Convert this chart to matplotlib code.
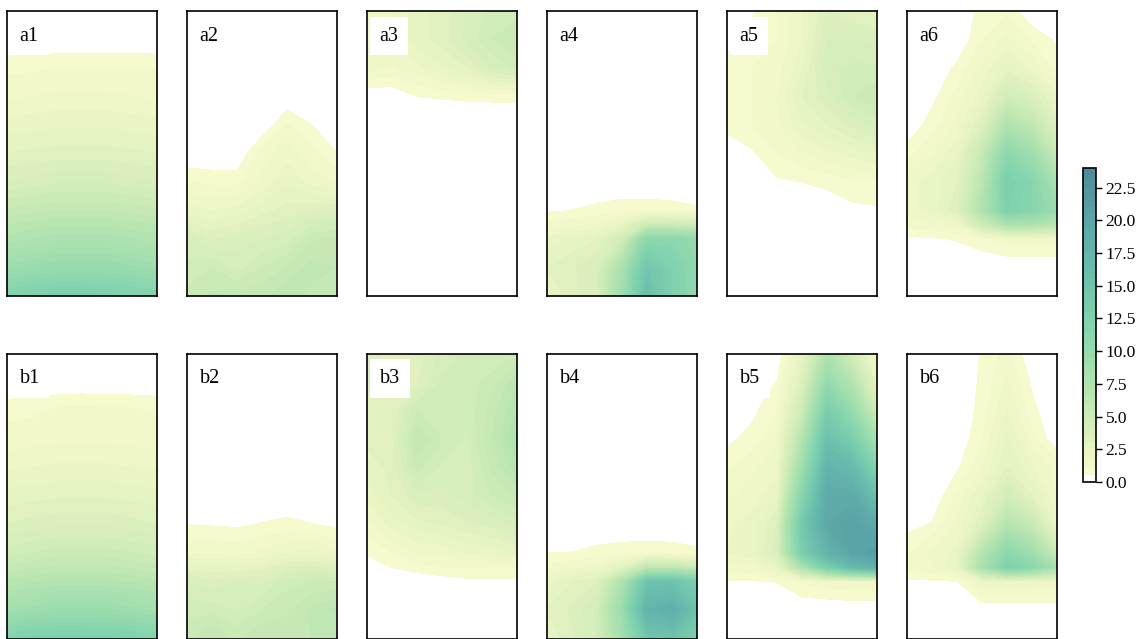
import matplotlib
import matplotlib.pyplot as plt
import numpy as np
from matplotlib.colors import LinearSegmentedColormap

matplotlib.use('Agg')
plt.rcParams['font.family'] = ['Liberation Serif', 'DejaVu Serif']

# grid the values were read on, as fractions of the panel
row_pos = [0, .1, .2, .3, .4, .5, .6, .7, .75, .8, .9, 1]
col_pos = [0, 1 / 6, 2 / 6, 3 / 6, 4 / 6, 5 / 6, 1]

a1 = [[0, 0, 0, 0, 0, 0, 0],
      [0, 0, 0, 0, 0, 0, 0],
      [.86, .9, 1, 1, 1, 1, 1],
      [1.4, 1.5, 1.6, 1.6, 1.6, 1.5, 1.4],
      [2.2, 2.3, 2.4, 2.4, 2.4, 2.3, 2.2],
      [3.0, 3.1, 3.2, 3.2, 3.2, 3.1, 3.0],
      [4.0, 4.2, 4.4, 4.4, 4.4, 4.2, 4.0],
      [5.6, 5.8, 6.0, 6.0, 6.0, 5.8, 5.6],
      [6.5, 6.7, 6.9, 6.9, 6.9, 6.7, 6.5],
      [7.2, 7.5, 7.8, 7.8, 7.8, 7.5, 7.2],
      [9.2, 9.6, 10, 10, 10, 9.6, 9.2],
      [12.2, 12.6, 12.8, 12.8, 12.6, 12.4, 12.0]]

a2 = [[0, 0, 0, 0, 0, 0, 0],
      [0, 0, 0, 0, 0, 0, 0],
      [0, 0, 0, 0, 0, 0, 0],
      [0, 0, 0, 0, 0, 0, 0],
      [0, 0, 0, 0, 1.06, .5, 0],
      [0, 0, 0, 1.25, 1.8, 1.2, .515],
      [1.0, .86, .86, 1.6, 2.4, 1.8, 1.4],
      [2.2, 2.0, 2.2, 2.8, 3.2, 3.4, 3.4],
      [3.2, 2.7, 3.0, 3.4, 3.7, 4.4, 4.6],
      [4.2, 3.4, 3.8, 4.0, 4.2, 5.4, 5.6],
      [4.6, 5.0, 4.2, 5.0, 5.6, 6.2, 6.0],
      [5.2, 5.6, 5.8, 5.8, 6.4, 5.8, 6.0]]

a3 = [[1.5, 2.0, 2.8, 3.2, 4.0, 4.6, 4.8],
      [1.4, 1.8, 2.8, 3.2, 4.2, 5.0, 5.5],
      [1.67, 1.43, 1.8, 2.4, 3.0, 4.0, 4.6],
      [0, 0, .5, .55, .6, .62, .62],
      [0, 0, 0, 0, 0, 0, 0],
      [0, 0, 0, 0, 0, 0, 0],
      [0, 0, 0, 0, 0, 0, 0],
      [0, 0, 0, 0, 0, 0, 0],
      [0, 0, 0, 0, 0, 0, 0],
      [0, 0, 0, 0, 0, 0, 0],
      [0, 0, 0, 0, 0, 0, 0],
      [0, 0, 0, 0, 0, 0, 0]]

a4 = [[0, 0, 0, 0, 0, 0, 0],
      [0, 0, 0, 0, 0, 0, 0],
      [0, 0, 0, 0, 0, 0, 0],
      [0, 0, 0, 0, 0, 0, 0],
      [0, 0, 0, 0, 0, 0, 0],
      [0, 0, 0, 0, 0, 0, 0],
      [0, 0, 0, 0, 0, 0, 0],
      [.4, .51, .67, .83, .83, .75, .6],
      [1.2, 1.4, 1.6, 2.4, 5.0, 5.0, 4.5],
      [2.2, 2.6, 3.0, 4.5, 11, 11, 10],
      [3.0, 3.4, 4.0, 8.0, 14.5, 12.5, 10.5],
      [2.6, 3.2, 4.0, 9.0, 16, 12.5, 10.5]]

a5 = [[0, .4, 1.0, 2.0, 3.5, 3.2, 2.8],
      [0, .9, 1.0, 2.0, 4.0, 4.0, 3.8],
      [1.0, 1.0, 1.2, 2.4, 4.4, 4.6, 4.6],
      [1.0, 1.0, 1.5, 3.0, 3.8, 5.0, 5.4],
      [.7, 1.0, 1.4, 2.4, 3.0, 3.6, 4.2],
      [0, .4, 1.0, 1.4, 1.8, 2.2, 2.6],
      [0, 0, .4, .51, .68, .85, .9],
      [0, 0, 0, 0, 0, .35, .42],
      [0, 0, 0, 0, 0, 0, 0],
      [0, 0, 0, 0, 0, 0, 0],
      [0, 0, 0, 0, 0, 0, 0],
      [0, 0, 0, 0, 0, 0, 0]]

a6 = [[0, 0, 0, .71, .9, 0, 0],
      [0, 0, 0, 1.0, 1.6, .91, .4],
      [0, 0, .63, 1.6, 2.8, 1.8, .8],
      [0, .3, 1.2, 2.2, 4.6, 3.8, 2.2],
      [0, .8, 1.6, 3.6, 7.5, 6.0, 3.4],
      [.78, 1.4, 2.4, 5.5, 11, 9.0, 5.2],
      [1.8, 2.2, 3.0, 6.5, 13, 11.5, 8.0],
      [1.8, 2.2, 3.4, 7.5, 12.5, 11.5, 9.5],
      [1.2, 1.4, 1.6, 5.0, 7.5, 7.5, 6.5],
      [.35, .4, .55, .86, 1.25, 1.25, 1.25],
      [0, 0, 0, 0, 0, 0, 0],
      [0, 0, 0, 0, 0, 0, 0]]

b1 = [[0, 0, 0, 0, 0, 0, 0],
      [0, 0, 0, 0, 0, 0, 0],
      [.83, .9, 1.1, 1.2, 1.1, 1.1, 1.0],
      [1.2, 1.3, 1.4, 1.4, 1.4, 1.3, 1.2],
      [1.9, 2.0, 2.1, 2.1, 2.1, 2.0, 1.9],
      [2.7, 2.8, 2.9, 2.9, 2.9, 2.8, 2.7],
      [3.5, 3.7, 3.9, 3.9, 3.9, 3.7, 3.5],
      [4.8, 5.0, 5.2, 5.2, 5.2, 5.0, 4.8],
      [5.6, 5.9, 6.1, 6.1, 6.1, 5.9, 5.6],
      [6.6, 6.9, 7.1, 7.1, 7.1, 6.9, 6.6],
      [8.8, 9.2, 9.6, 9.6, 9.6, 9.2, 8.8],
      [12.2, 12.6, 12.8, 12.8, 12.6, 12.4, 12.0]]

b2 = [[0, 0, 0, 0, 0, 0, 0],
      [0, 0, 0, 0, 0, 0, 0],
      [0, 0, 0, 0, 0, 0, 0],
      [0, 0, 0, 0, 0, 0, 0],
      [0, 0, 0, 0, 0, 0, 0],
      [0, 0, 0, 0, 0, 0, 0],
      [.49, .45, .4, .54, .67, .52, .35],
      [1.5, 1.5, 1.3, 1.6, 2.0, 2.2, 1.6],
      [2.8, 2.6, 2.6, 2.8, 3.4, 3.6, 3.2],
      [4.0, 3.6, 4.0, 3.8, 4.8, 5.0, 5.0],
      [4.8, 4.8, 4.4, 5.0, 5.4, 6.2, 6.6],
      [5.4, 6.0, 5.4, 6.0, 6.0, 6.0, 6.0]]

b3 = [[4.0, 3.0, 3.2, 4.2, 4.6, 4.6, 5.0],
      [3.6, 3.0, 3.4, 4.6, 4.8, 5.2, 6.4],
      [3.4, 3.0, 5.0, 5.0, 4.6, 5.8, 7.0],
      [3.2, 3.2, 6.0, 5.0, 4.4, 6.0, 7.6],
      [2.6, 3.2, 5.2, 4.4, 4.2, 5.6, 6.8],
      [2.2, 3.0, 3.8, 3.8, 4.2, 5.0, 5.6],
      [1.2, 2.2, 2.8, 3.0, 3.4, 3.6, 4.2],
      [.6, 1.0, 1.5, 1.6, 2.0, 2.2, 2.6],
      [0, .52, .8, 1.0, 1.0, 1.0, 1.0],
      [0, 0, 0, .15, .35, .35, .35],
      [0, 0, 0, 0, 0, 0, 0],
      [0, 0, 0, 0, 0, 0, 0]]

b4 = [[0, 0, 0, 0, 0, 0, 0],
      [0, 0, 0, 0, 0, 0, 0],
      [0, 0, 0, 0, 0, 0, 0],
      [0, 0, 0, 0, 0, 0, 0],
      [0, 0, 0, 0, 0, 0, 0],
      [0, 0, 0, 0, 0, 0, 0],
      [0, 0, 0, 0, 0, 0, 0],
      [.5, .52, .69, .8, .86, .8, .64],
      [1.2, 1.4, 1.7, 3.0, 6.0, 6.0, 5.0],
      [2.2, 3.0, 3.4, 7.5, 15, 15, 13],
      [3.0, 3.6, 4.6, 9.5, 17.5, 18.5, 15],
      [2.5, 3.4, 4.5, 8.5, 14.5, 15, 12.5]]

b5 = [[0, 0, 0, 2.5, 7.5, 4.5, 1.5],
      [0, 0, .52, 3.5, 10, 7.0, 2.5],
      [0, .35, 1.0, 5.0, 13, 10, 4.5],
      [.35, .7, 1.4, 7.0, 15.5, 13, 8.0],
      [.9, 1.4, 1.8, 9.0, 17.5, 16.5, 12],
      [1.4, 1.7, 2.4, 11.5, 19, 19, 15.5],
      [1.9, 2.2, 3.5, 14, 19.5, 20.5, 19],
      [2.0, 2.3, 3.8, 13, 17.5, 20, 21],
      [1.3, 1.4, 2.4, 7.5, 13, 16.5, 18],
      [.45, .45, .52, 1.09, 1.3, 1.5, 1.5],
      [0, 0, 0, 0, 0, 0, 0],
      [0, 0, 0, 0, 0, 0, 0]]

b6 = [[0, 0, 0, .55, 1.2, 0, 0],
      [0, 0, 0, .62, 1.6, .4, 0],
      [0, 0, 0, .71, 2.0, .66, 0],
      [0, 0, 0, 1.0, 2.6, 1.2, 0],
      [0, 0, .4, 1.4, 3.0, 2.0, 1.28],
      [0, 0, 1.14, 2.5, 4.5, 3.0, 1.4],
      [.3, .56, 1.6, 3.5, 7.0, 5.5, 2.2],
      [.93, 1.6, 2.2, 7.0, 11, 9.0, 5.0],
      [1.2, 1.4, 2.4, 8.0, 12.5, 11, 8.0],
      [.4, .4, .48, 2.0, 2.0, 2.0, 1.8],
      [0, 0, 0, 0, 0, 0, 0],
      [0, 0, 0, 0, 0, 0, 0]]

panels = [['a1', a1], ['a2', a2], ['a3', a3], ['a4', a4], ['a5', a5], ['a6', a6],
          ['b1', b1], ['b2', b2], ['b3', b3], ['b4', b4], ['b5', b5], ['b6', b6]]

cbar_ticks = [0, 2.5, 5, 7.5, 10, 12.5, 15, 17.5, 20, 22.5]

# first band (below .5) stays white
cmap = LinearSegmentedColormap.from_list('pale_teal', [
    (0, '#ffffff'), (.02, '#ffffff'), (.021, '#f9fbcf'),
    (1.5 / 24, '#f1f7c9'), (2.5 / 24, '#e8f4c3'), (5 / 24, '#cdebb7'), (7.5 / 24, '#b0e2af'),
    (10 / 24, '#96dbae'), (12.5 / 24, '#7fd1ae'), (15 / 24, '#6fc4ad'),
    (17.5 / 24, '#64b5ac'), (20 / 24, '#5ba5a8'), (22.5 / 24, '#55949f'),
    (1, '#50889a')], N=512)
levels = np.arange(0, 24.5, .5)

W, H = 1138, 639
fig = plt.figure(figsize=(W / 100, H / 100), dpi=100)

xs = [7, 187, 367, 547, 727, 907]
ys = [11, 353.5]
w, h = 150, 285

cs = None
for i, (name, values) in enumerate(panels):
    x0 = xs[i % 6]
    y0 = ys[i // 6]
    ax = fig.add_axes([x0 / W, 1 - (y0 + h) / H, w / W, h / H])
    cs = ax.contourf(col_pos, row_pos, np.array(values), levels=levels, cmap=cmap, vmin=0, vmax=24)
    ax.set_xlim(0, 1)
    ax.set_ylim(1, 0)
    ax.set_xticks([])
    ax.set_yticks([])
    for sp in ax.spines.values():
        sp.set_linewidth(1.2)
        sp.set_zorder(5)
    ax.text(.085, .912, name, transform=ax.transAxes, fontsize=14.5, ha='left', va='center',
            bbox=dict(facecolor='white', edgecolor='none', pad=7), zorder=4)

cax = fig.add_axes([1083 / W, 1 - 482 / H, 13 / W, 314 / H])
cb = fig.colorbar(cs, cax=cax, ticks=cbar_ticks)
cb.ax.set_yticklabels([str(t) for t in [0.0, 2.5, 5.0, 7.5, 10.0, 12.5, 15.0, 17.5, 20.0, 22.5]])
cb.ax.tick_params(labelsize=12.5, length=4, width=1, pad=3)
cb.outline.set_linewidth(1.2)

fig.savefig('out.png', dpi=100)
